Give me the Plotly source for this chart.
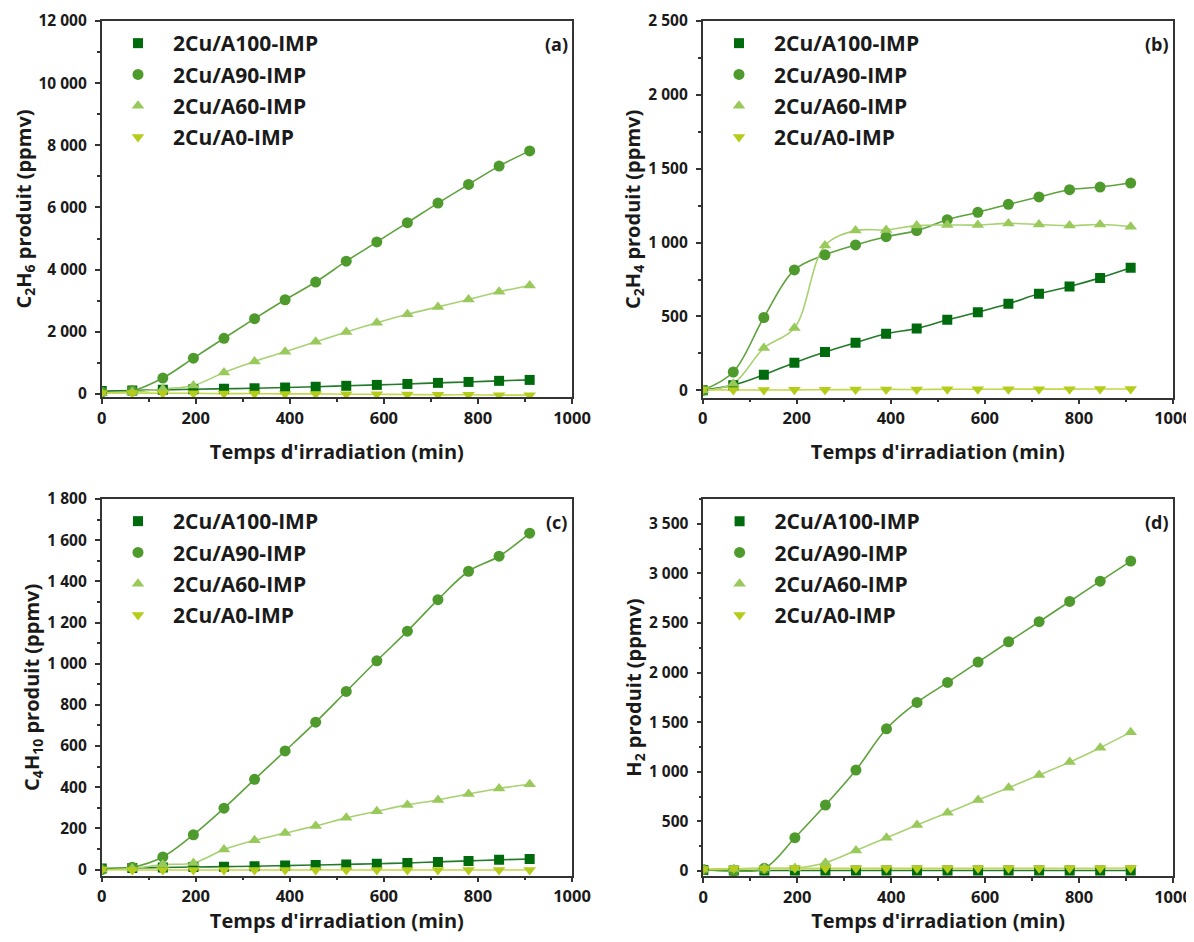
import plotly.graph_objects as go

# ---------------- data ----------------
time_min = [0, 65, 130, 195, 260, 325, 390, 455, 520, 585, 650, 715, 780, 845, 910]
series_names = ["2Cu/A100-IMP", "2Cu/A90-IMP", "2Cu/A60-IMP", "2Cu/A0-IMP"]

# (a) C2H6 (ppmv)
c2h6_a100 = [90, 110, 130, 150, 165, 180, 205, 230, 260, 290, 320, 355, 385, 420, 450]
c2h6_a90 = [60, 100, 510, 1150, 1790, 2420, 3030, 3600, 4270, 4890, 5510, 6140, 6740, 7330, 7820]
c2h6_a60 = [30, 60, 160, 270, 690, 1045, 1355, 1675, 1995, 2290, 2560, 2800, 3040, 3285, 3490]
c2h6_a0 = [30, 30, 20, 20, 10, 10, 0, 0, -10, -10, -20, -30, -30, -40, -40]

# (b) C2H4 (ppmv)
c2h4_a100 = [0, 35, 105, 187, 259, 322, 383, 419, 477, 529, 586, 653, 703, 761, 829]
c2h4_a90 = [0, 124, 493, 815, 917, 984, 1040, 1081, 1155, 1205, 1259, 1309, 1358, 1376, 1403]
c2h4_a60 = [0, 45, 286, 421, 980, 1081, 1086, 1115, 1119, 1119, 1130, 1122, 1115, 1122, 1108]
c2h4_a0 = [5, 2, 2, 3, 4, 5, 6, 6, 7, 7, 8, 8, 8, 9, 9]

# (c) C4H10 (ppmv)
c4h10_a100 = [5, 8, 10, 12, 14, 16, 19, 22, 25, 28, 32, 37, 42, 47, 51]
c4h10_a90 = [0, 11, 61, 169, 298, 438, 576, 716, 865, 1014, 1158, 1311, 1449, 1522, 1634]
c4h10_a60 = [0, 5, 24, 32, 97, 142, 177, 212, 251, 283, 314, 338, 367, 394, 414]
c4h10_a0 = [0, -2, -2, -2, -2, -2, -2, -2, -2, -2, -2, -2, -2, -2, -2]

# (d) H2 (ppmv)
h2_a100 = [10, 5, 5, 5, 5, 5, 5, 5, 5, 5, 5, 5, 5, 5, 5]
h2_a90 = [15, 0, 27, 336, 665, 1018, 1434, 1700, 1901, 2106, 2311, 2513, 2717, 2922, 3124]
h2_a60 = [15, 20, 30, 30, 84, 208, 336, 464, 588, 715, 840, 967, 1098, 1243, 1400]
h2_a0 = [20, 25, 25, 27, 27, 27, 27, 27, 27, 27, 28, 28, 28, 28, 30]

panel_labels = ["(a)", "(b)", "(c)", "(d)"]
y_titles = ["C<sub>2</sub>H<sub>6</sub> produit (ppmv)",
            "C<sub>2</sub>H<sub>4</sub> produit (ppmv)",
            "C<sub>4</sub>H<sub>10</sub> produit (ppmv)",
            "H<sub>2</sub> produit (ppmv)"]
x_title = "Temps d'irradiation (min)"

panels_data = [
    [c2h6_a100, c2h6_a90, c2h6_a60, c2h6_a0],
    [c2h4_a100, c2h4_a90, c2h4_a60, c2h4_a0],
    [c4h10_a100, c4h10_a90, c4h10_a60, c4h10_a0],
    [h2_a100, h2_a90, h2_a60, h2_a0],
]

# ---------------- styles ----------------
# the page has an 8px body margin: the figure is shifted by that offset and
# every position below (given in window pixels) is converted accordingly
OFF = 8
W, H = 1194 - OFF, 942 - 2 * OFF


def px(xw):
    return (xw - OFF) / W


def py(yw):
    return 1 - (yw - OFF) / H


marker_colors = ["#006b0c", "#4e9a2c", "#98c95a", "#b5cc1a"]
line_colors = ["#237a2a", "#5ea23c", "#a8d272", "#c3d84a"]
symbols = ["square", "circle", "triangle-up", "triangle-down"]
sizes = [10, 11, 11, 11]

# window-pixel boxes (left, right, top, bottom)
boxes = [(101.7, 572, 21, 397), (702.7, 1173, 21, 397.7),
         (101.7, 572, 499, 875.7), (703.3, 1173, 499, 876)]
y_ranges = [[-100, 12000], [-50, 2500], [-30, 1800], [-50, 3750]]
y_dticks = [2000, 500, 200, 500]

FONT = "Open Sans"
AXC = "#333333"
TXT = "#1a1a1a"

fig = go.Figure()

for p in range(4):
    xa = "x" if p == 0 else f"x{p+1}"
    ya = "y" if p == 0 else f"y{p+1}"
    leg = "legend" if p == 0 else f"legend{p+1}"
    for s in range(4):
        vals = panels_data[p][s]
        fig.add_trace(go.Scatter(
            x=time_min, y=vals, mode="lines", xaxis=xa, yaxis=ya,
            line=dict(color=line_colors[s], width=1.6, shape="spline", smoothing=1.0),
            showlegend=False, hoverinfo="skip"))
    for s in range(4):
        vals = panels_data[p][s]
        fig.add_trace(go.Scatter(
            x=time_min, y=vals, mode="markers", xaxis=xa, yaxis=ya,
            marker=dict(symbol=symbols[s], size=sizes[s], color=marker_colors[s],
                        line=dict(width=0)),
            name=series_names[s], legend=leg, legendgroup=f"g{p}{s}"))

layout = dict(
    width=W, height=H,
    margin=dict(l=0, r=0, t=0, b=0, autoexpand=False),
    paper_bgcolor="white", plot_bgcolor="white",
    font=dict(family=FONT, size=16, color=TXT, weight="bold"),
    separators=", ",
    annotations=[],
)

for p in range(4):
    l, r, t, b = boxes[p]
    xk = "xaxis" if p == 0 else f"xaxis{p+1}"
    yk = "yaxis" if p == 0 else f"yaxis{p+1}"
    xa = "x" if p == 0 else f"x{p+1}"
    ya = "y" if p == 0 else f"y{p+1}"
    layout[xk] = dict(
        domain=[px(l), px(r)], anchor=ya, range=[0, 1000], automargin=False,
        tick0=0, dtick=200, ticks="outside", ticklen=5, tickwidth=1.5, tickcolor=AXC,
        minor=dict(dtick=100, ticks="outside", ticklen=3, tickwidth=1.5, tickcolor=AXC),
        showline=True, linecolor=AXC, linewidth=1.5, mirror=True,
        showgrid=False, zeroline=False, ticklabeloverflow="allow",
        tickfont=dict(family=FONT, size=16.5, color=TXT, weight="bold"),
        title=dict(text=x_title, standoff=17,
                   font=dict(family=FONT, size=20, color=TXT, weight="bold")),
    )
    layout[yk] = dict(
        domain=[py(b), py(t)], anchor=xa, range=y_ranges[p], automargin=False,
        tick0=0, dtick=y_dticks[p], ticks="outside", ticklen=5, tickwidth=1.5, tickcolor=AXC,
        minor=dict(dtick=y_dticks[p] / 2, ticks="outside", ticklen=3, tickwidth=1.5, tickcolor=AXC),
        showline=True, linecolor=AXC, linewidth=1.5, mirror=True,
        showgrid=False, zeroline=False, tickformat=",d", ticklabelstandoff=5,
        tickfont=dict(family=FONT, size=15.5, color=TXT, weight="bold"),
        title=dict(text=y_titles[p], standoff=2,
                   font=dict(family=FONT, size=20, color=TXT, weight="bold")),
    )
    lk = "legend" if p == 0 else f"legend{p+1}"
    layout[lk] = dict(
        x=px(l + 1.3), y=py(t + 2), xanchor="left", yanchor="top",
        bgcolor="rgba(0,0,0,0)", borderwidth=0, itemwidth=60, tracegroupgap=1,
        font=dict(family=FONT, size=21, color=TXT, weight="bold"),
    )
    layout["annotations"].append(dict(
        text=panel_labels[p], x=px(r - 16), y=py(t + 23),
        xref="paper", yref="paper", showarrow=False, xanchor="center", yanchor="middle",
        font=dict(family=FONT, size=18, color=TXT, weight="bold")))

fig.update_layout(**layout)
fig.write_html("out.html")
